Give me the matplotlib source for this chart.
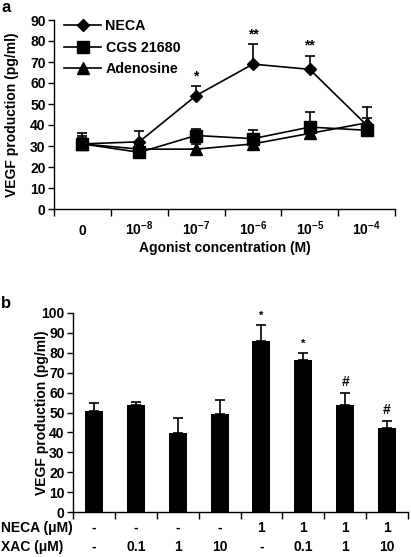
import matplotlib
matplotlib.use("Agg")
import matplotlib.pyplot as plt
import matplotlib.transforms as mtrans
from matplotlib.lines import Line2D
import numpy as np

plt.rcParams['font.family'] = ['Liberation Sans', 'DejaVu Sans']
plt.rcParams['font.weight'] = 'bold'
plt.rcParams['mathtext.fontset'] = 'custom'
plt.rcParams['mathtext.rm'] = 'Liberation Sans:bold'
plt.rcParams['mathtext.bf'] = 'Liberation Sans:bold'
plt.rcParams['mathtext.default'] = 'bf'

# Panel a data
conc_labels = ['0', r'$10^{-8}$', r'$10^{-7}$', r'$10^{-6}$', r'$10^{-5}$', r'$10^{-4}$']
neca = [31, 32, 54, 69, 66.5, 40]
neca_err = [5, 5, 4.5, 9.5, 6.5, 8.5]
cgs = [31, 27, 35, 33.5, 39, 37.5]
cgs_err = [4, 2, 3, 4, 7, 2]
adeno = [31, 28.5, 28.5, 31, 36, 41]
adeno_err = [3, 2, 2.5, 3, 2.5, 2.5]
sig_a = ['', '', '*', '**', '**', '']

# Panel b data
bar_vals = [51, 54, 39.5, 49, 86, 76.5, 54, 42]
bar_err = [4, 1.5, 7.5, 7.5, 8, 3.5, 6, 3.5]
sig_b = ['', '', '', '', '*', '*', '#', '#']
neca_labels = ['-', '-', '-', '-', '1', '1', '1', '1']
xac_labels = ['-', '0.1', '1', '10', '-', '0.1', '1', '10']

W, H = 411, 557
fig = plt.figure(figsize=(W / 100, H / 100), dpi=100)

def fx(px):
    return px / W

def fy(py):
    return 1 - py / H

fs = 10

# ---------- Panel a ----------
axa = fig.add_axes([fx(54), fy(209), fx(395) - fx(54), fy(20) - fy(209)])
x = np.arange(len(conc_labels))
series = [(neca, neca_err, 'D', 6.5, 'NECA'),
          (cgs, cgs_err, 's', 8, 'CGS 21680'),
          (adeno, adeno_err, '^', 8, 'Adenosine')]
handles = []
for vals, err, mk, ms, lab in series:
    axa.errorbar(x, vals, yerr=[np.zeros(len(err)), err], fmt='-', marker=mk,
                 color='black', ms=ms, lw=1.2, elinewidth=1.2, capsize=3.5,
                 capthick=1.2)
    handles.append(Line2D([], [], color='black', lw=1.2, marker=mk, ms=ms, label=lab))
for xi, v, e, s in zip(x, neca, neca_err, sig_a):
    if s:
        axa.text(xi, v + e + 1.5, s, ha='center', va='bottom', fontsize=10,
                 fontweight='bold')
axa.set_xlim(-0.5, len(x) - 0.5)
axa.set_ylim(0, 90)
axa.set_yticks(range(0, 91, 10))
axa.set_xticks(np.arange(-0.5, len(x), 1))
axa.set_xticklabels([])
axa.tick_params(axis='x', length=5, width=1, direction='out')
axa.tick_params(axis='y', length=4, width=1, labelsize=fs, pad=2)
for sp in ['top', 'right']:
    axa.spines[sp].set_visible(False)
for sp in ['left', 'bottom']:
    axa.spines[sp].set_linewidth(1)
transa = mtrans.blended_transform_factory(axa.transData, fig.transFigure)
for xi, lab in zip(x, conc_labels):
    axa.text(xi, fy(235), lab, transform=transa, ha='center', va='baseline',
             fontsize=fs, fontweight='bold')
fig.text(fx(12), (fy(209) + fy(20)) / 2, 'VEGF production (pg/ml)', rotation=90,
         ha='center', va='center', fontsize=fs, fontweight='bold')
fig.text((fx(54) + fx(395)) / 2, fy(248), 'Agonist concentration (M)',
         ha='center', va='center', fontsize=fs, fontweight='bold')
leg = axa.legend(handles=handles, loc='upper left', frameon=False, fontsize=fs + 0.3,
                 bbox_to_anchor=(0.0, 1.06), handlelength=2.6, labelspacing=0.55,
                 borderaxespad=0.3, handletextpad=0.3)
fig.text(fx(1), fy(7), 'a', fontsize=12, fontweight='bold', va='center')

# ---------- Panel b ----------
axb = fig.add_axes([fx(73), fy(512), fx(408) - fx(73), fy(313) - fy(512)])
xb = np.arange(len(bar_vals))
axb.bar(xb, bar_vals, width=0.43, color='black',
        yerr=[np.zeros(len(bar_err)), bar_err], capsize=3.5,
        error_kw=dict(elinewidth=1.2, capthick=1.2, ecolor='black'))
for xi, v, e, s in zip(xb, bar_vals, bar_err, sig_b):
    if s:
        axb.text(xi, v + e + 2, s, ha='center', va='bottom',
                 fontsize=8 if s == '*' else 10, fontweight='bold')
axb.set_xlim(-0.5, len(xb) - 0.5)
axb.set_ylim(0, 100)
axb.set_yticks(range(0, 101, 10))
axb.set_xticks(np.arange(-0.5, len(xb), 1))
axb.set_xticklabels([])
axb.tick_params(axis='x', length=5, width=1, direction='out')
axb.tick_params(axis='y', length=4, width=1, labelsize=fs, pad=2)
for sp in ['top', 'right']:
    axb.spines[sp].set_visible(False)
for sp in ['left', 'bottom']:
    axb.spines[sp].set_linewidth(1)
fig.text(fx(42), (fy(512) + fy(313)) / 2, 'VEGF production (pg/ml)', rotation=90,
         ha='center', va='center', fontsize=fs, fontweight='bold')

transb = mtrans.blended_transform_factory(axb.transData, fig.transFigure)
for xi, nl, xl in zip(xb, neca_labels, xac_labels):
    axb.text(xi, fy(528), nl, transform=transb, ha='center', va='center',
             fontsize=fs, fontweight='bold')
    axb.text(xi, fy(547), xl, transform=transb, ha='center', va='center',
             fontsize=fs, fontweight='bold')
fig.text(fx(1), fy(528), 'NECA (\u03bcM)', fontsize=fs, fontweight='bold', va='center')
fig.text(fx(1), fy(547), 'XAC (\u03bcM)', fontsize=fs, fontweight='bold', va='center')
fig.text(fx(1), fy(303), 'b', fontsize=12, fontweight='bold', va='center')

fig.savefig('out.png', dpi=100)
